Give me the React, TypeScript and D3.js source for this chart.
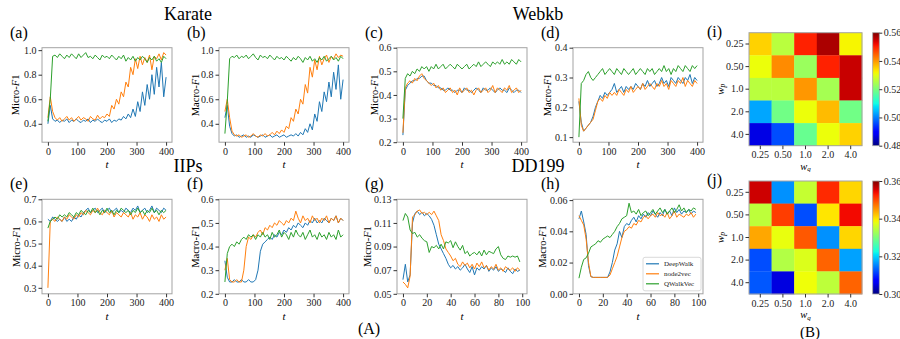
import { useEffect, useRef } from 'react'
import * as d3 from 'd3'

const FONT = '"Liberation Serif", "DejaVu Serif", serif'
const COLORS = ['#1f77b4', '#ff7f0e', '#2ca02c']
const METHODS = ['DeepWalk', 'node2vec', 'QWalkVec']

// time steps (sampled every 8 steps on the long runs, every 2 on DD199)
const T_LONG = d3.range(0, 401, 8)
const T_SHORT = d3.range(0, 100, 2)
const X_TICKS_LONG = [0, 100, 200, 300, 400]
const X_TICKS_SHORT = [0, 20, 40, 60, 80, 100]

// (a) Karate Micro-F1
const karateMicroDeepWalk = [0.40, 0.55, 0.44, 0.42, 0.43, 0.41, 0.43, 0.42, 0.44, 0.41, 0.43, 0.42, 0.44, 0.42, 0.41, 0.43, 0.42, 0.44, 0.41, 0.43, 0.42, 0.44, 0.42, 0.41, 0.43, 0.42, 0.44, 0.41, 0.43, 0.42, 0.44, 0.43, 0.46, 0.44, 0.48, 0.45, 0.52, 0.46, 0.58, 0.50, 0.66, 0.55, 0.72, 0.60, 0.80, 0.64, 0.86, 0.70, 0.90, 0.62, 0.78]
const karateMicroNode2vec = [0.45, 0.62, 0.50, 0.45, 0.43, 0.45, 0.42, 0.44, 0.46, 0.43, 0.45, 0.42, 0.44, 0.46, 0.43, 0.45, 0.44, 0.42, 0.46, 0.44, 0.43, 0.47, 0.44, 0.46, 0.45, 0.48, 0.46, 0.55, 0.52, 0.60, 0.56, 0.66, 0.62, 0.74, 0.70, 0.86, 0.80, 0.93, 0.85, 0.95, 0.88, 0.94, 0.90, 0.96, 0.84, 0.95, 0.93, 0.97, 0.92, 0.98, 0.96]
const karateMicroQWalkVec = [0.42, 0.60, 0.95, 0.96, 0.94, 0.97, 0.95, 0.93, 0.96, 0.94, 0.97, 0.95, 0.93, 0.97, 0.94, 0.96, 0.98, 0.94, 0.95, 0.93, 0.96, 0.94, 0.92, 0.96, 0.94, 0.95, 0.93, 0.96, 0.94, 0.92, 0.95, 0.93, 0.96, 0.91, 0.94, 0.92, 0.95, 0.91, 0.94, 0.92, 0.95, 0.93, 0.90, 0.94, 0.92, 0.95, 0.91, 0.93, 0.90, 0.95, 0.93]

// (b) Karate Macro-F1
const karateMacroDeepWalk = [0.45, 0.55, 0.38, 0.32, 0.30, 0.31, 0.29, 0.30, 0.31, 0.29, 0.30, 0.29, 0.31, 0.30, 0.29, 0.30, 0.31, 0.29, 0.30, 0.31, 0.29, 0.30, 0.31, 0.29, 0.30, 0.31, 0.29, 0.30, 0.31, 0.30, 0.32, 0.30, 0.33, 0.31, 0.36, 0.33, 0.40, 0.35, 0.48, 0.42, 0.58, 0.50, 0.66, 0.58, 0.74, 0.62, 0.82, 0.68, 0.88, 0.60, 0.76]
const karateMacroNode2vec = [0.50, 0.60, 0.45, 0.34, 0.31, 0.30, 0.31, 0.29, 0.30, 0.31, 0.29, 0.30, 0.32, 0.30, 0.29, 0.31, 0.30, 0.32, 0.30, 0.31, 0.33, 0.31, 0.34, 0.32, 0.35, 0.33, 0.38, 0.36, 0.45, 0.42, 0.52, 0.48, 0.60, 0.56, 0.72, 0.65, 0.86, 0.78, 0.92, 0.84, 0.95, 0.88, 0.93, 0.96, 0.90, 0.95, 0.93, 0.97, 0.94, 0.96, 0.95]
const karateMacroQWalkVec = [0.32, 0.58, 0.93, 0.95, 0.94, 0.96, 0.93, 0.95, 0.94, 0.96, 0.93, 0.95, 0.97, 0.94, 0.92, 0.96, 0.94, 0.95, 0.93, 0.96, 0.94, 0.92, 0.95, 0.93, 0.94, 0.92, 0.95, 0.93, 0.91, 0.94, 0.92, 0.95, 0.93, 0.90, 0.94, 0.92, 0.95, 0.91, 0.93, 0.90, 0.94, 0.92, 0.95, 0.91, 0.93, 0.95, 0.92, 0.94, 0.91, 0.95, 0.93]

// (c) Webkb Micro-F1
const webkbMicroDeepWalk = [0.23, 0.42, 0.44, 0.45, 0.46, 0.46, 0.47, 0.47, 0.48, 0.48, 0.46, 0.45, 0.45, 0.44, 0.44, 0.43, 0.43, 0.42, 0.42, 0.43, 0.42, 0.42, 0.41, 0.42, 0.42, 0.41, 0.43, 0.42, 0.42, 0.41, 0.42, 0.43, 0.42, 0.41, 0.43, 0.42, 0.42, 0.43, 0.42, 0.41, 0.42, 0.43, 0.42, 0.42, 0.41, 0.43, 0.42, 0.41, 0.42, 0.42, 0.41]
const webkbMicroNode2vec = [0.24, 0.43, 0.45, 0.46, 0.45, 0.47, 0.46, 0.48, 0.49, 0.47, 0.46, 0.45, 0.44, 0.45, 0.43, 0.44, 0.42, 0.43, 0.41, 0.42, 0.43, 0.41, 0.42, 0.40, 0.43, 0.41, 0.42, 0.43, 0.41, 0.42, 0.40, 0.42, 0.43, 0.41, 0.42, 0.43, 0.41, 0.42, 0.44, 0.41, 0.43, 0.42, 0.41, 0.43, 0.42, 0.44, 0.41, 0.42, 0.43, 0.41, 0.42]
const webkbMicroQWalkVec = [0.30, 0.47, 0.49, 0.48, 0.50, 0.49, 0.51, 0.50, 0.52, 0.51, 0.52, 0.50, 0.52, 0.51, 0.53, 0.51, 0.52, 0.53, 0.51, 0.52, 0.53, 0.52, 0.51, 0.53, 0.52, 0.51, 0.52, 0.53, 0.51, 0.52, 0.53, 0.52, 0.54, 0.52, 0.53, 0.54, 0.53, 0.52, 0.54, 0.53, 0.54, 0.53, 0.55, 0.53, 0.54, 0.53, 0.55, 0.54, 0.53, 0.55, 0.54]

// (d) Webkb Macro-F1
const webkbMacroDeepWalk = [0.22, 0.15, 0.12, 0.13, 0.14, 0.15, 0.17, 0.20, 0.22, 0.24, 0.23, 0.25, 0.24, 0.25, 0.26, 0.28, 0.25, 0.26, 0.27, 0.25, 0.27, 0.26, 0.27, 0.26, 0.28, 0.27, 0.26, 0.28, 0.27, 0.29, 0.27, 0.28, 0.29, 0.27, 0.28, 0.30, 0.28, 0.29, 0.27, 0.30, 0.29, 0.28, 0.30, 0.29, 0.28, 0.30, 0.29, 0.31, 0.28, 0.30, 0.29]
const webkbMacroNode2vec = [0.23, 0.14, 0.12, 0.13, 0.14, 0.15, 0.16, 0.19, 0.22, 0.23, 0.22, 0.24, 0.23, 0.25, 0.24, 0.25, 0.24, 0.26, 0.25, 0.24, 0.26, 0.25, 0.27, 0.25, 0.26, 0.27, 0.26, 0.28, 0.26, 0.27, 0.28, 0.27, 0.26, 0.28, 0.27, 0.29, 0.27, 0.28, 0.26, 0.29, 0.28, 0.27, 0.29, 0.28, 0.30, 0.27, 0.29, 0.28, 0.27, 0.29, 0.28]
const webkbMacroQWalkVec = [0.10, 0.28, 0.29, 0.31, 0.32, 0.30, 0.29, 0.30, 0.31, 0.32, 0.33, 0.31, 0.32, 0.33, 0.32, 0.31, 0.33, 0.32, 0.31, 0.33, 0.32, 0.31, 0.32, 0.33, 0.31, 0.32, 0.33, 0.32, 0.31, 0.33, 0.32, 0.33, 0.31, 0.32, 0.33, 0.32, 0.34, 0.32, 0.33, 0.31, 0.33, 0.32, 0.34, 0.33, 0.32, 0.34, 0.33, 0.32, 0.34, 0.33, 0.34]

// (e) IIPs Micro-F1
const iipsMicroDeepWalk = [0.61, 0.60, 0.62, 0.61, 0.60, 0.61, 0.60, 0.62, 0.60, 0.61, 0.60, 0.62, 0.61, 0.63, 0.62, 0.64, 0.65, 0.66, 0.64, 0.65, 0.66, 0.64, 0.65, 0.66, 0.64, 0.65, 0.66, 0.64, 0.65, 0.66, 0.64, 0.65, 0.64, 0.66, 0.65, 0.64, 0.66, 0.65, 0.67, 0.64, 0.65, 0.66, 0.64, 0.65, 0.67, 0.64, 0.66, 0.65, 0.64, 0.66, 0.65]
const iipsMicroNode2vec = [0.30, 0.60, 0.61, 0.60, 0.62, 0.61, 0.60, 0.62, 0.61, 0.63, 0.62, 0.61, 0.63, 0.62, 0.64, 0.63, 0.65, 0.64, 0.63, 0.65, 0.64, 0.66, 0.64, 0.63, 0.65, 0.64, 0.63, 0.65, 0.62, 0.64, 0.63, 0.62, 0.64, 0.63, 0.62, 0.64, 0.61, 0.63, 0.62, 0.64, 0.61, 0.63, 0.62, 0.60, 0.63, 0.61, 0.62, 0.60, 0.63, 0.61, 0.62]
const iipsMicroQWalkVec = [0.57, 0.60, 0.61, 0.62, 0.61, 0.63, 0.62, 0.63, 0.62, 0.64, 0.63, 0.62, 0.64, 0.63, 0.65, 0.64, 0.63, 0.65, 0.64, 0.66, 0.64, 0.65, 0.63, 0.65, 0.64, 0.66, 0.64, 0.65, 0.63, 0.65, 0.64, 0.66, 0.65, 0.64, 0.65, 0.63, 0.65, 0.64, 0.66, 0.64, 0.65, 0.63, 0.65, 0.64, 0.66, 0.64, 0.65, 0.63, 0.65, 0.64, 0.65]

// (f) IIPs Macro-F1
const iipsMacroDeepWalk = [0.34, 0.27, 0.25, 0.25, 0.26, 0.25, 0.25, 0.26, 0.25, 0.25, 0.26, 0.25, 0.25, 0.26, 0.30, 0.38, 0.41, 0.42, 0.43, 0.44, 0.43, 0.45, 0.44, 0.46, 0.45, 0.47, 0.46, 0.48, 0.47, 0.49, 0.48, 0.50, 0.49, 0.48, 0.50, 0.49, 0.51, 0.50, 0.52, 0.50, 0.51, 0.50, 0.52, 0.51, 0.50, 0.52, 0.51, 0.53, 0.50, 0.52, 0.51]
const iipsMacroNode2vec = [0.30, 0.35, 0.26, 0.25, 0.25, 0.26, 0.25, 0.25, 0.30, 0.40, 0.44, 0.43, 0.45, 0.44, 0.46, 0.47, 0.45, 0.48, 0.47, 0.49, 0.48, 0.50, 0.49, 0.51, 0.50, 0.49, 0.51, 0.50, 0.52, 0.51, 0.55, 0.52, 0.50, 0.53, 0.51, 0.52, 0.50, 0.53, 0.51, 0.52, 0.50, 0.52, 0.51, 0.53, 0.50, 0.52, 0.51, 0.53, 0.50, 0.52, 0.51]
const iipsMacroQWalkVec = [0.25, 0.37, 0.40, 0.41, 0.40, 0.42, 0.41, 0.43, 0.44, 0.43, 0.45, 0.44, 0.45, 0.43, 0.45, 0.44, 0.46, 0.44, 0.45, 0.43, 0.46, 0.44, 0.45, 0.47, 0.44, 0.46, 0.45, 0.43, 0.46, 0.44, 0.47, 0.45, 0.44, 0.46, 0.43, 0.45, 0.47, 0.44, 0.45, 0.43, 0.46, 0.44, 0.45, 0.43, 0.46, 0.44, 0.45, 0.43, 0.47, 0.44, 0.45]

// (g) DD199 Micro-F1
const ddMicroDeepWalk = [0.062, 0.075, 0.060, 0.066, 0.110, 0.118, 0.120, 0.117, 0.119, 0.116, 0.118, 0.116, 0.113, 0.108, 0.100, 0.092, 0.088, 0.084, 0.080, 0.075, 0.072, 0.074, 0.071, 0.073, 0.070, 0.072, 0.075, 0.071, 0.068, 0.073, 0.066, 0.072, 0.070, 0.073, 0.071, 0.074, 0.069, 0.072, 0.070, 0.073, 0.069, 0.071, 0.070, 0.068, 0.072, 0.069, 0.067, 0.071, 0.069, 0.070]
const ddMicroNode2vec = [0.060, 0.058, 0.055, 0.065, 0.115, 0.117, 0.120, 0.121, 0.118, 0.119, 0.117, 0.119, 0.117, 0.120, 0.116, 0.112, 0.100, 0.095, 0.088, 0.085, 0.082, 0.078, 0.080, 0.075, 0.073, 0.077, 0.074, 0.076, 0.072, 0.075, 0.071, 0.076, 0.073, 0.077, 0.072, 0.074, 0.070, 0.073, 0.071, 0.075, 0.070, 0.072, 0.069, 0.073, 0.071, 0.070, 0.072, 0.069, 0.072, 0.070]
const ddMicroQWalkVec = [0.112, 0.118, 0.115, 0.104, 0.101, 0.102, 0.098, 0.100, 0.097, 0.095, 0.094, 0.085, 0.090, 0.089, 0.091, 0.088, 0.092, 0.088, 0.094, 0.093, 0.095, 0.089, 0.094, 0.090, 0.087, 0.091, 0.084, 0.086, 0.082, 0.084, 0.085, 0.083, 0.086, 0.082, 0.087, 0.083, 0.086, 0.085, 0.084, 0.088, 0.090, 0.083, 0.080, 0.079, 0.082, 0.081, 0.082, 0.081, 0.082, 0.077]

// (h) DD199 Macro-F1
const ddMacroDeepWalk = [0.048, 0.053, 0.046, 0.038, 0.018, 0.011, 0.0105, 0.0105, 0.0105, 0.0105, 0.0105, 0.0105, 0.0105, 0.014, 0.020, 0.028, 0.032, 0.040, 0.036, 0.043, 0.045, 0.044, 0.047, 0.049, 0.046, 0.050, 0.048, 0.051, 0.049, 0.052, 0.050, 0.053, 0.051, 0.049, 0.052, 0.050, 0.054, 0.051, 0.053, 0.050, 0.055, 0.052, 0.054, 0.051, 0.053, 0.052, 0.054, 0.051, 0.053, 0.052]
const ddMacroNode2vec = [0.050, 0.047, 0.044, 0.035, 0.020, 0.011, 0.0105, 0.0105, 0.0105, 0.0105, 0.0105, 0.0105, 0.0105, 0.012, 0.016, 0.020, 0.024, 0.030, 0.036, 0.040, 0.041, 0.043, 0.042, 0.045, 0.044, 0.047, 0.046, 0.049, 0.050, 0.048, 0.050, 0.051, 0.049, 0.052, 0.050, 0.051, 0.049, 0.052, 0.048, 0.050, 0.053, 0.049, 0.051, 0.050, 0.049, 0.051, 0.050, 0.052, 0.049, 0.051]
const ddMacroQWalkVec = [0.010, 0.017, 0.022, 0.023, 0.026, 0.030, 0.031, 0.032, 0.034, 0.033, 0.035, 0.036, 0.037, 0.036, 0.038, 0.040, 0.043, 0.045, 0.048, 0.049, 0.050, 0.058, 0.052, 0.053, 0.051, 0.054, 0.050, 0.052, 0.053, 0.050, 0.052, 0.054, 0.051, 0.053, 0.055, 0.052, 0.054, 0.051, 0.053, 0.055, 0.052, 0.054, 0.057, 0.053, 0.055, 0.052, 0.054, 0.053, 0.055, 0.054]

// heatmaps: rows w_p, columns w_q
const WEIGHT_LABELS = ['0.25', '0.50', '1.0', '2.0', '4.0']
const heatmapI = [
  [0.535, 0.526, 0.550, 0.557, 0.532],
  [0.531, 0.541, 0.523, 0.550, 0.555],
  [0.526, 0.526, 0.540, 0.524, 0.555],
  [0.503, 0.519, 0.531, 0.537, 0.519],
  [0.487, 0.496, 0.518, 0.531, 0.535],
]
const heatmapJ = [
  [0.356, 0.316, 0.3354, 0.352, 0.341],
  [0.3348, 0.3507, 0.312, 0.340, 0.354],
  [0.344, 0.338, 0.349, 0.316, 0.341],
  [0.312, 0.334, 0.337, 0.3483, 0.317],
  [0.3126, 0.305, 0.3384, 0.3348, 0.3483],
]
const CBAR_I_TICKS = [0.48, 0.50, 0.52, 0.54, 0.56]
const CBAR_J_TICKS = [0.30, 0.32, 0.34, 0.36]

// layout
const COL_X = [42, 219, 397, 573]
const ROW_Y = [47.7, 199.3]
const W = 130
const H = 94.5

// matplotlib "jet"
const jetR = d3.scaleLinear([0, 0.35, 0.66, 0.89, 1], [0, 0, 1, 1, 0.5]).clamp(true)
const jetG = d3.scaleLinear([0, 0.125, 0.375, 0.64, 0.91, 1], [0, 0, 1, 1, 0, 0]).clamp(true)
const jetB = d3.scaleLinear([0, 0.11, 0.34, 0.65, 1], [0.5, 1, 1, 0, 0]).clamp(true)
const jet = (v: number) => d3.rgb(jetR(v) * 255, jetG(v) * 255, jetB(v) * 255).formatHex()

type Panel = {
  label: string
  col: number
  row: number
  metric: string
  t: number[]
  xDomain: [number, number]
  xTicks: number[]
  yDomain: [number, number]
  yTicks: number[]
  yFmt: string
  yLabelOffset: number
  series: number[][]
  legend?: boolean
}

const panels: Panel[] = [
  { label: '(a)', col: 0, row: 0, metric: 'Micro', t: T_LONG, xDomain: [-20, 420], xTicks: X_TICKS_LONG, yDomain: [0.25, 1.02], yTicks: [0.4, 0.6, 0.8, 1.0], yFmt: '.1f', yLabelOffset: 27, series: [karateMicroDeepWalk, karateMicroNode2vec, karateMicroQWalkVec] },
  { label: '(b)', col: 1, row: 0, metric: 'Macro', t: T_LONG, xDomain: [-20, 420], xTicks: X_TICKS_LONG, yDomain: [0.25, 1.02], yTicks: [0.4, 0.6, 0.8, 1.0], yFmt: '.1f', yLabelOffset: 24, series: [karateMacroDeepWalk, karateMacroNode2vec, karateMacroQWalkVec] },
  { label: '(c)', col: 2, row: 0, metric: 'Micro', t: T_LONG, xDomain: [-20, 420], xTicks: X_TICKS_LONG, yDomain: [0.2, 0.6], yTicks: [0.2, 0.3, 0.4, 0.5, 0.6], yFmt: '.1f', yLabelOffset: 23, series: [webkbMicroDeepWalk, webkbMicroNode2vec, webkbMicroQWalkVec] },
  { label: '(d)', col: 3, row: 0, metric: 'Macro', t: T_LONG, xDomain: [-20, 420], xTicks: X_TICKS_LONG, yDomain: [0.083, 0.4], yTicks: [0.1, 0.2, 0.3, 0.4], yFmt: '.1f', yLabelOffset: 26, series: [webkbMacroDeepWalk, webkbMacroNode2vec, webkbMacroQWalkVec] },
  { label: '(e)', col: 0, row: 1, metric: 'Micro', t: T_LONG, xDomain: [-20, 420], xTicks: X_TICKS_LONG, yDomain: [0.273, 0.7], yTicks: [0.3, 0.4, 0.5, 0.6, 0.7], yFmt: '.1f', yLabelOffset: 26, series: [iipsMicroDeepWalk, iipsMicroNode2vec, iipsMicroQWalkVec] },
  { label: '(f)', col: 1, row: 1, metric: 'Macro', t: T_LONG, xDomain: [-20, 420], xTicks: X_TICKS_LONG, yDomain: [0.2, 0.6], yTicks: [0.2, 0.3, 0.4, 0.5, 0.6], yFmt: '.1f', yLabelOffset: 24, series: [iipsMacroDeepWalk, iipsMacroNode2vec, iipsMacroQWalkVec] },
  { label: '(g)', col: 2, row: 1, metric: 'Micro', t: T_SHORT, xDomain: [-5, 104], xTicks: X_TICKS_SHORT, yDomain: [0.05, 0.13], yTicks: [0.05, 0.07, 0.09, 0.11, 0.13], yFmt: '.2f', yLabelOffset: 30, series: [ddMicroDeepWalk, ddMicroNode2vec, ddMicroQWalkVec] },
  { label: '(h)', col: 3, row: 1, metric: 'Macro', t: T_SHORT, xDomain: [-5, 104], xTicks: X_TICKS_SHORT, yDomain: [0, 0.0605], yTicks: [0, 0.02, 0.04, 0.06], yFmt: '.2f', yLabelOffset: 31, series: [ddMacroDeepWalk, ddMacroNode2vec, ddMacroQWalkVec], legend: true },
]

const titles = [
  { text: 'Karate', x: 188, y: 20 },
  { text: 'Webkb', x: 538, y: 20 },
  { text: 'IIPs', x: 188, y: 172 },
  { text: 'DD199', x: 538, y: 172 },
]

const heatmaps = [
  { label: '(i)', values: heatmapI, domain: [0.48, 0.56], ticks: CBAR_I_TICKS, x: 749, y: 32.7 },
  { label: '(j)', values: heatmapJ, domain: [0.30, 0.36], ticks: CBAR_J_TICKS, x: 749, y: 181 },
]
const HM = 113

export default function App() {
  const ref = useRef<SVGSVGElement>(null)

  useEffect(() => {
    if (!ref.current) return
    const svg = d3.select(ref.current)
    svg.selectAll('*').remove()
    svg.attr('font-family', FONT)

    const styleAxis = (ax: d3.Selection<SVGGElement, unknown, null, undefined>) => {
      ax.attr('font-family', FONT).attr('font-size', 10)
      ax.select('.domain').remove()
      ax.selectAll('line').attr('stroke', '#333')
      ax.selectAll('text').attr('fill', '#222')
    }

    // line panels
    panels.forEach((p) => {
      const g = svg.append('g').attr('transform', `translate(${COL_X[p.col]},${ROW_Y[p.row]})`)
      const x = d3.scaleLinear().domain(p.xDomain).range([0, W])
      const y = d3.scaleLinear().domain(p.yDomain).range([H, 0])

      const line = d3
        .line<number>()
        .x((_, i) => x(p.t[i]))
        .y((d) => y(d))

      p.series.forEach((s, k) => {
        g.append('path')
          .attr('d', line(s))
          .attr('fill', 'none')
          .attr('stroke', COLORS[k])
          .attr('stroke-width', 1)
          .attr('stroke-linejoin', 'round')
      })

      g.append('rect')
        .attr('width', W)
        .attr('height', H)
        .attr('fill', 'none')
        .attr('stroke', '#a3a3a3')
        .attr('stroke-width', 1)

      const xAx = g
        .append('g')
        .attr('transform', `translate(0,${H})`)
        .call(d3.axisBottom(x).tickValues(p.xTicks).tickSize(3.5).tickPadding(2).tickFormat(d3.format('d')))
      styleAxis(xAx)

      const yAx = g
        .append('g')
        .call(d3.axisLeft(y).tickValues(p.yTicks).tickSize(3.5).tickPadding(2).tickFormat(d3.format(p.yFmt)))
      styleAxis(yAx)

      // axis labels
      g.append('text')
        .attr('x', W / 2)
        .attr('y', H + 26)
        .attr('text-anchor', 'middle')
        .attr('font-style', 'italic')
        .attr('font-size', 11)
        .text('t')

      const yl = g
        .append('text')
        .attr('transform', `translate(${-p.yLabelOffset},${H / 2}) rotate(-90)`)
        .attr('text-anchor', 'middle')
        .attr('dominant-baseline', 'central')
        .attr('font-size', 10.5)
      yl.append('tspan').text(`${p.metric}-`)
      yl.append('tspan').attr('font-style', 'italic').text('F')
      yl.append('tspan').text('1')

      svg.append('text')
        .attr('x', COL_X[p.col] - 32)
        .attr('y', ROW_Y[p.row] - 10)
        .attr('font-size', 16)
        .text(p.label)

      if (p.legend) {
        const lg = g.append('g').attr('transform', `translate(${W - 60},${H - 36.5})`)
        lg.append('rect')
          .attr('width', 58)
          .attr('height', 33.5)
          .attr('rx', 2)
          .attr('fill', '#fff')
          .attr('fill-opacity', 0.85)
          .attr('stroke', '#d0d0d0')
          .attr('stroke-width', 0.8)
        METHODS.forEach((m, k) => {
          const yy = 6.5 + k * 10
          lg.append('line')
            .attr('x1', 3)
            .attr('x2', 16)
            .attr('y1', yy)
            .attr('y2', yy)
            .attr('stroke', COLORS[k])
            .attr('stroke-width', 1.2)
          lg.append('text')
            .attr('x', 21)
            .attr('y', yy)
            .attr('dominant-baseline', 'central')
            .attr('font-size', 7)
            .attr('fill', '#222')
            .text(m)
        })
      }
    })

    titles.forEach((t) => {
      svg.append('text')
        .attr('x', t.x)
        .attr('y', t.y)
        .attr('text-anchor', 'middle')
        .attr('font-size', 18)
        .text(t.text)
    })

    // jet gradient for colorbars
    const defs = svg.append('defs')
    const grad = defs
      .append('linearGradient')
      .attr('id', 'jetGrad')
      .attr('x1', 0)
      .attr('y1', 1)
      .attr('x2', 0)
      .attr('y2', 0)
    d3.range(0, 1.0001, 0.025).forEach((o) => {
      grad.append('stop').attr('offset', o).attr('stop-color', jet(o))
    })

    // heatmaps
    heatmaps.forEach((hm) => {
      const g = svg.append('g').attr('transform', `translate(${hm.x},${hm.y})`)
      const xb = d3.scaleBand<string>().domain(WEIGHT_LABELS).range([0, HM])
      const yb = d3.scaleBand<string>().domain(WEIGHT_LABELS).range([0, HM])
      const norm = d3.scaleLinear().domain(hm.domain).range([0, 1]).clamp(true)

      hm.values.forEach((row, ri) => {
        row.forEach((v, ci) => {
          g.append('rect')
            .attr('x', xb(WEIGHT_LABELS[ci])!)
            .attr('y', yb(WEIGHT_LABELS[ri])!)
            .attr('width', xb.bandwidth() + 0.3)
            .attr('height', yb.bandwidth() + 0.3)
            .attr('fill', jet(norm(v)))
        })
      })
      g.append('rect')
        .attr('width', HM)
        .attr('height', HM)
        .attr('fill', 'none')
        .attr('stroke', '#a3a3a3')

      const xAx = g
        .append('g')
        .attr('transform', `translate(0,${HM})`)
        .call(d3.axisBottom(xb).tickSize(3.5).tickPadding(2))
      styleAxis(xAx)
      const yAx = g.append('g').call(d3.axisLeft(yb).tickSize(3.5).tickPadding(2))
      styleAxis(yAx)

      const xl = g
        .append('text')
        .attr('x', HM / 2)
        .attr('y', HM + 24)
        .attr('text-anchor', 'middle')
        .attr('font-size', 10.5)
      xl.append('tspan').attr('font-style', 'italic').text('w')
      xl.append('tspan').attr('font-style', 'italic').attr('font-size', 7).attr('dy', 1.5).text('q')

      const yl = g
        .append('text')
        .attr('transform', `translate(-29,${HM / 2}) rotate(-90)`)
        .attr('text-anchor', 'middle')
        .attr('dominant-baseline', 'central')
        .attr('font-size', 11)
      yl.append('tspan').attr('font-style', 'italic').text('w')
      yl.append('tspan').attr('font-style', 'italic').attr('font-size', 7.5).attr('dy', 2).text('p')

      svg.append('text')
        .attr('x', hm.x - 42)
        .attr('y', hm.y + 4)
        .attr('font-size', 16)
        .text(hm.label)

      // colorbar
      const cbx = 872.7 - hm.x
      const cbw = 6.6
      g.append('rect')
        .attr('x', cbx)
        .attr('width', cbw)
        .attr('height', HM)
        .attr('fill', 'url(#jetGrad)')
        .attr('stroke', '#a3a3a3')
        .attr('stroke-width', 0.8)
      const cs = d3.scaleLinear().domain(hm.domain).range([HM, 0])
      const cAx = g
        .append('g')
        .attr('transform', `translate(${cbx + cbw},0)`)
        .call(d3.axisRight(cs).tickValues(hm.ticks).tickSize(3).tickPadding(1.5).tickFormat(d3.format('.2f')))
      styleAxis(cAx)
    })

    svg.append('text').attr('x', 369).attr('y', 334).attr('text-anchor', 'middle').attr('font-size', 16).text('(A)')
    svg.append('text').attr('x', 810).attr('y', 336.5).attr('text-anchor', 'middle').attr('font-size', 15).text('(B)')
  }, [])

  return (
    <svg
      ref={ref}
      width={900}
      height={339}
      style={{ position: 'absolute', left: 0, top: 0, background: '#fff' }}
    />
  )
}
